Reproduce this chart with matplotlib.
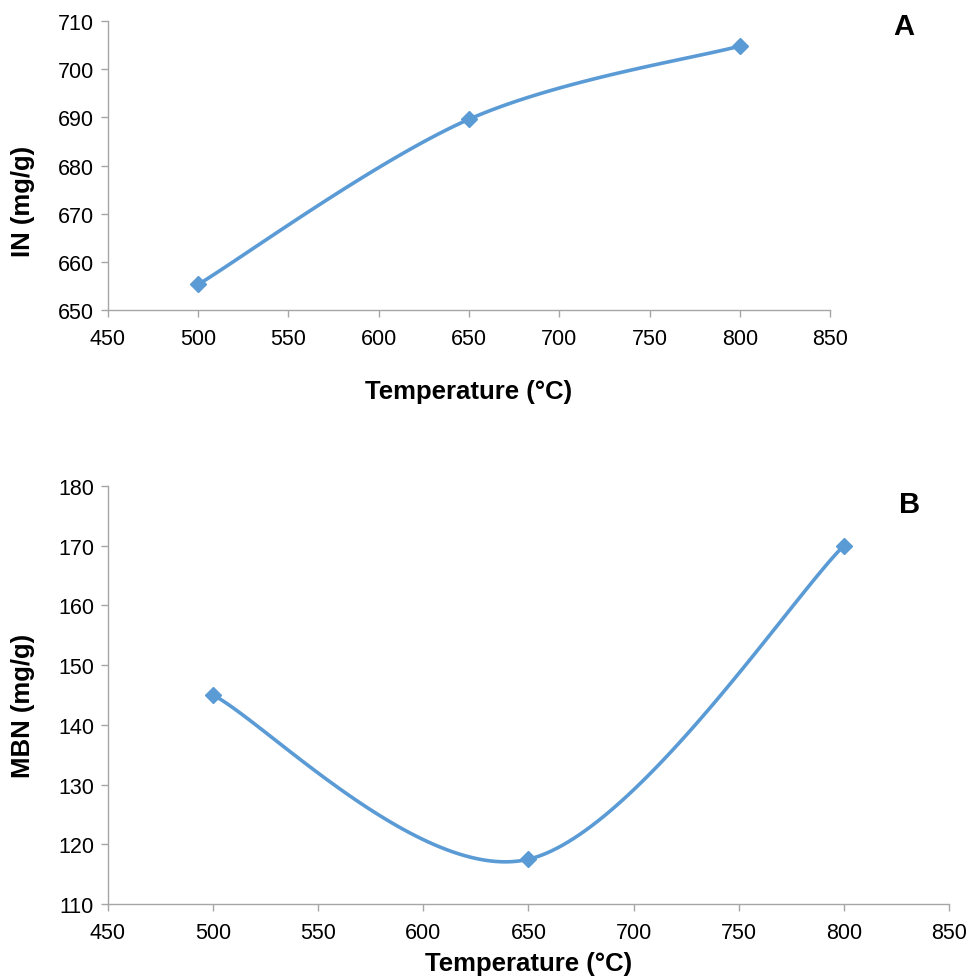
import numpy as np
import matplotlib
matplotlib.use('Agg')
import matplotlib.pyplot as plt

plt.rcParams['font.family'] = ['Liberation Sans', 'DejaVu Sans']

# Data
temperature = [500, 650, 800]
in_values = [655.3, 689.6, 704.8]
mbn_values = [145.0, 117.5, 170.0]

line_color = '#5B9BD5'
axis_color = '#A6A6A6'


def smooth(x, y, n=60):
    # Excel-style smoothed line: cubic Bezier with Catmull-Rom control points
    x = np.asarray(x, float)
    y = np.asarray(y, float)
    px = np.concatenate([[x[0]], x, [x[-1]]])
    py = np.concatenate([[y[0]], y, [y[-1]]])
    xs, ys = [], []
    t = np.linspace(0, 1, n)
    for i in range(1, len(px) - 2):
        p0 = np.array([px[i], py[i]])
        p3 = np.array([px[i + 1], py[i + 1]])
        p1 = p0 + (np.array([px[i + 1], py[i + 1]]) - np.array([px[i - 1], py[i - 1]])) / 6
        p2 = p3 - (np.array([px[i + 2], py[i + 2]]) - np.array([px[i], py[i]])) / 6
        b = ((1 - t) ** 3)[:, None] * p0 + (3 * (1 - t) ** 2 * t)[:, None] * p1 \
            + (3 * (1 - t) * t ** 2)[:, None] * p2 + (t ** 3)[:, None] * p3
        xs.extend(b[:, 0])
        ys.extend(b[:, 1])
    return xs, ys


def style_axes(ax, ylim, yticks):
    ax.set_xlim(450, 850)
    ax.set_xticks(range(450, 851, 50))
    ax.set_ylim(*ylim)
    ax.set_yticks(yticks)
    for s in ['top', 'right']:
        ax.spines[s].set_visible(False)
    for s in ['left', 'bottom']:
        ax.spines[s].set_color(axis_color)
        ax.spines[s].set_linewidth(1.0)
    ax.tick_params(axis='both', direction='out', length=5, width=1.0,
                   color=axis_color, labelsize=15.5, labelcolor='black')
    ax.tick_params(axis='x', pad=8)
    ax.tick_params(axis='y', pad=5)


def fy(px):
    return 1 - px / 978


fig = plt.figure(figsize=(9.71, 9.78), dpi=100)

# Panel A
ax1 = fig.add_axes([0.1112, 0.682, 0.7436, 0.2955])
sx, sy = smooth(temperature, in_values)
ax1.plot(sx, sy, color=line_color, lw=2.6)
ax1.plot(temperature, in_values, linestyle='none', marker='D', ms=8.5, color=line_color)
style_axes(ax1, (650, 710), range(650, 711, 10))
fig.text(23 / 971, fy(201), 'IN (mg/g)', rotation=90, ha='center', va='center',
         fontsize=18.5, fontweight='bold')
fig.text(469 / 971, fy(392), 'Temperature (°C)', ha='center', va='center',
         fontsize=18.5, fontweight='bold')
fig.text(903.5 / 971, fy(27), 'A', ha='center', va='center',
         fontsize=21, fontweight='bold')

# Panel B
ax2 = fig.add_axes([0.1112, 0.0746, 0.866, 0.4274])
sx, sy = smooth(temperature, mbn_values)
ax2.plot(sx, sy, color=line_color, lw=2.6)
ax2.plot(temperature, mbn_values, linestyle='none', marker='D', ms=8.5, color=line_color)
style_axes(ax2, (110, 180), range(110, 181, 10))
fig.text(23 / 971, fy(706), 'MBN (mg/g)', rotation=90, ha='center', va='center',
         fontsize=18.5, fontweight='bold')
fig.text(529 / 971, fy(964), 'Temperature (°C)', ha='center', va='center',
         fontsize=18.5, fontweight='bold')
fig.text(910 / 971, fy(505), 'B', ha='center', va='center',
         fontsize=21, fontweight='bold')

fig.savefig('out.png', dpi=100)
